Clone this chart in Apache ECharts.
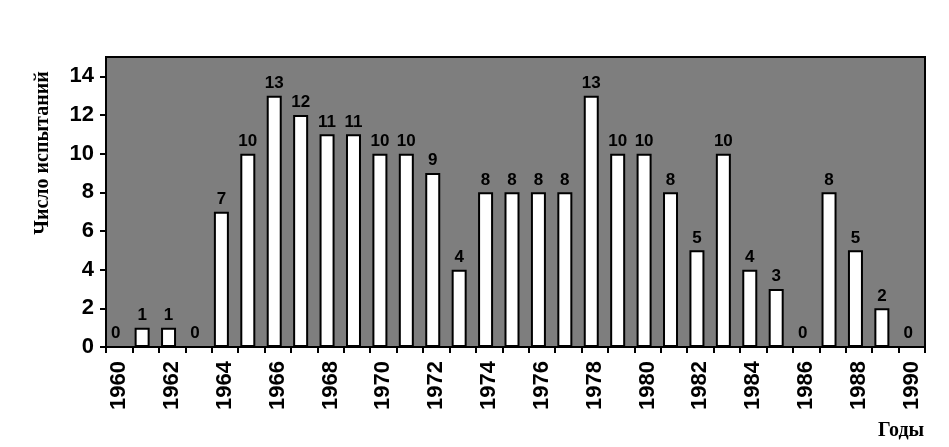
<!DOCTYPE html>
<html>
<head>
<meta charset="utf-8">
<script src="https://cdn.jsdelivr.net/npm/echarts@6/dist/echarts.min.js"></script>
<style>
  html, body { margin: 0; padding: 0; background: #ffffff; }
  #chart { width: 949px; height: 447px; }
</style>
</head>
<body>
<div id="chart"></div>
<script>
// Data
const years = ['1960','1961','1962','1963','1964','1965','1966','1967','1968','1969',
               '1970','1971','1972','1973','1974','1975','1976','1977','1978','1979',
               '1980','1981','1982','1983','1984','1985','1986','1987','1988','1989','1990'];
const tests = [0, 1, 1, 0, 7, 10, 13, 12, 11, 11,
               10, 10, 9, 4, 8, 8, 8, 8, 13, 10,
               10, 8, 5, 10, 4, 3, 0, 8, 5, 2, 0];
const yTitle = 'Число испытаний';
const xTitle = 'Годы';

const chart = echarts.init(document.getElementById('chart'), null, { renderer: 'canvas' });

const option = {
  animation: false,
  backgroundColor: '#ffffff',
  grid: {
    left: 106, right: 24, top: 57, bottom: 100,
    show: true,
    backgroundColor: '#7e7e7e',
    borderColor: '#000',
    borderWidth: 2
  },
  xAxis: {
    type: 'category',
    data: years,
    boundaryGap: true,
    axisLine: { show: true, lineStyle: { color: '#000', width: 2 } },
    axisTick: { show: true, interval: 0, length: 6, lineStyle: { color: '#000', width: 2 } },
    axisLabel: {
      interval: 1,
      rotate: 90,
      margin: 14,
      color: '#000',
      fontFamily: 'Liberation Sans, Arial, sans-serif',
      fontWeight: 'bold',
      fontSize: 22
    },
    splitLine: { show: false }
  },
  yAxis: {
    type: 'value',
    min: 0,
    max: 15,
    interval: 2,
    axisLine: { show: true, lineStyle: { color: '#000', width: 2 } },
    axisTick: { show: true, length: 6, lineStyle: { color: '#000', width: 2 } },
    axisLabel: {
      showMaxLabel: false,
      margin: 12,
      color: '#000',
      fontFamily: 'Liberation Sans, Arial, sans-serif',
      fontWeight: 'bold',
      fontSize: 22
    },
    splitLine: { show: false }
  },
  series: [
    {
      type: 'bar',
      data: tests,
      barWidth: 15,
      barGap: '0%',
      itemStyle: { color: '#ffffff', borderColor: '#000', borderWidth: 2 },
      label: {
        show: true,
        position: 'top',
        distance: 4,
        color: '#000',
        fontFamily: 'Liberation Sans, Arial, sans-serif',
        fontWeight: 'bold',
        fontSize: 17
      }
    },
    {
      type: 'bar',
      data: years.map(() => '-'),
      barWidth: 7,
      silent: true
    }
  ],
  graphic: [
    {
      type: 'text',
      x: 43, y: 153,
      rotation: Math.PI / 2,
      style: {
        text: yTitle,
        fill: '#000',
        font: 'bold 20px "Liberation Serif", "Times New Roman", serif',
        align: 'center',
        verticalAlign: 'middle'
      }
    },
    {
      type: 'text',
      x: 878, y: 431,
      style: {
        text: xTitle,
        fill: '#000',
        font: 'bold 20px "Liberation Serif", "Times New Roman", serif',
        align: 'left',
        verticalAlign: 'middle'
      }
    }
  ]
};

chart.setOption(option);
</script>
</body>
</html>
